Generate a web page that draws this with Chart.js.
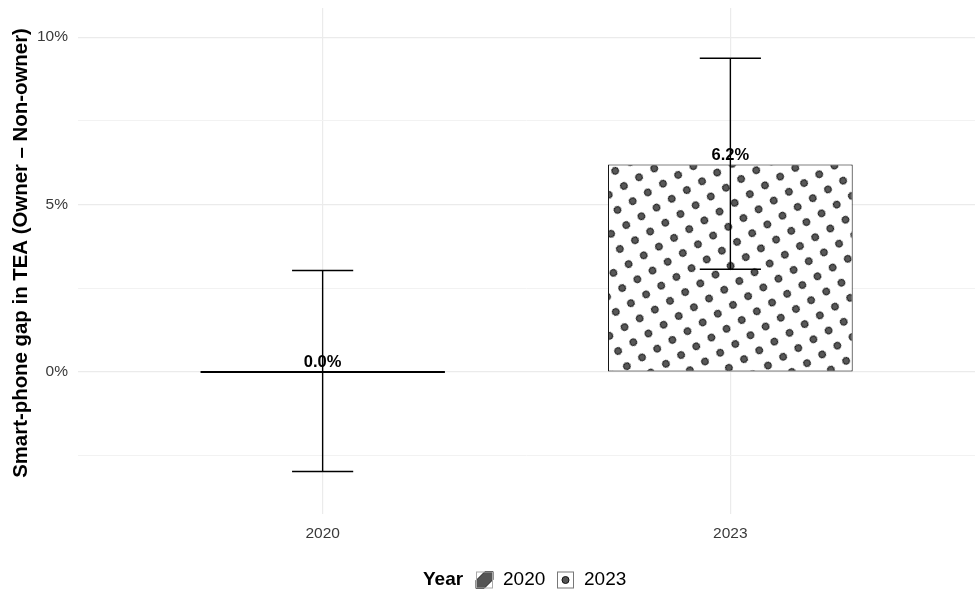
<!DOCTYPE html>
<html lang="en">
<head>
  <meta charset="UTF-8">
  <title>Smart-phone gap in TEA</title>
  <script src="https://cdn.jsdelivr.net/npm/chart.js"></script>
  <style>
    html, body { margin: 0; padding: 0; background: #fff; }
    #wrap { width: 976px; height: 592px; }
  </style>
</head>
<body>
  <div id="wrap"><canvas id="grafico" width="976" height="592"></canvas></div>

  <script>
    const years = ['2020', '2023'];
    const gapValues = [0.0, 6.2];
    const ciLower = [-2.97, 3.07];
    const ciUpper = [3.03, 9.37];
    const yTicks = [-2.5, 0, 2.5, 5, 7.5, 10];
    const yLabelTicks = [0, 5, 10];

    const FONT = '"Liberation Sans", Arial, sans-serif';
    Chart.defaults.font.family = FONT;

    // dot pattern for 2023 bar
    function makeDots() {
      const c = document.createElement('canvas');
      c.width = 35; c.height = 35;
      const g = c.getContext('2d');
      g.fillStyle = '#fff';
      g.fillRect(0, 0, 35, 35);
      [[8.75, 8.75], [26.25, 8.75], [8.75, 26.25], [26.25, 26.25]].forEach(p => {
        g.beginPath();
        g.arc(p[0], p[1], 3.4, 0, Math.PI * 2);
        g.fillStyle = '#585858';
        g.fill();
        g.lineWidth = 1;
        g.strokeStyle = '#111';
        g.stroke();
      });
      const pat = g.createPattern(c, 'repeat');
      pat.setTransform(new DOMMatrix().translate(619, 300).rotate(-30));
      return pat;
    }

    // stripe pattern for 2020 bar (bar has no height, only used for fill)
    function makeStripes() {
      const c = document.createElement('canvas');
      c.width = 12; c.height = 12;
      const g = c.getContext('2d');
      g.fillStyle = '#fff';
      g.fillRect(0, 0, 12, 12);
      g.fillStyle = '#555';
      g.beginPath();
      g.moveTo(0, 9); g.lineTo(9, 0); g.lineTo(12, 0); g.lineTo(12, 3); g.lineTo(3, 12); g.lineTo(0, 12);
      g.fill();
      return g.createPattern(c, 'repeat');
    }

    const dotPattern = makeDots();
    const stripePattern = makeStripes();

    const rotulos = {
      id: 'rotulos',
      afterDatasetsDraw(chart) {
        const ctx = chart.ctx;
        const xs = chart.scales.x, ys = chart.scales.y;
        ctx.save();
        // value labels
        ctx.font = 'bold 16.5px ' + FONT;
        ctx.fillStyle = '#000';
        ctx.textAlign = 'center';
        ctx.textBaseline = 'bottom';
        gapValues.forEach((v, i) => {
          ctx.fillText(v.toFixed(1) + '%', xs.getPixelForValue(i + 1), ys.getPixelForValue(v) - 1);
        });
        // error bars
        ctx.strokeStyle = '#000';
        ctx.lineWidth = 1.4;
        years.forEach((_, i) => {
          const x = xs.getPixelForValue(i + 1);
          const half = xs.getPixelForValue(i + 1 + 0.075) - x;
          const yl = ys.getPixelForValue(ciLower[i]);
          const yu = ys.getPixelForValue(ciUpper[i]);
          ctx.beginPath();
          ctx.moveTo(x, yl); ctx.lineTo(x, yu);
          ctx.moveTo(x - half, yl); ctx.lineTo(x + half, yl);
          ctx.moveTo(x - half, yu); ctx.lineTo(x + half, yu);
          ctx.stroke();
        });
        ctx.restore();
      }
    };

    const legenda = {
      id: 'legenda',
      afterDraw(chart) {
        const ctx = chart.ctx;
        const cy = 580;
        ctx.save();
        // y axis title
        ctx.save();
        ctx.translate(21, 253);
        ctx.rotate(-Math.PI / 2);
        ctx.textAlign = 'center';
        ctx.textBaseline = 'middle';
        ctx.fillStyle = '#000';
        ctx.font = 'bold 20.4px ' + FONT;
        ctx.fillText('Smart-phone gap in TEA (Owner – Non-owner)', 0, 0);
        ctx.restore();

        ctx.textBaseline = 'middle';
        ctx.textAlign = 'left';
        ctx.fillStyle = '#000';
        ctx.font = 'bold 19px ' + FONT;
        ctx.fillText('Year', 423, cy);
        ctx.font = '19px ' + FONT;

        // 2020 key
        let bx = 476, by = cy - 8.5, s = 17;
        ctx.fillStyle = '#fff';
        ctx.fillRect(bx, by, s, s);
        ctx.beginPath();
        ctx.moveTo(bx, by + 9); ctx.lineTo(bx + 9, by); ctx.lineTo(bx + s, by);
        ctx.lineTo(bx + s, by + 8); ctx.lineTo(bx + 8, by + s); ctx.lineTo(bx, by + s);
        ctx.closePath();
        ctx.fillStyle = '#555';
        ctx.fill();
        ctx.strokeStyle = '#222';
        ctx.lineWidth = 1;
        ctx.stroke();
        ctx.strokeStyle = '#aaa';
        ctx.strokeRect(bx + 0.5, by + 0.5, s - 1, s - 1);
        ctx.fillStyle = '#000';
        ctx.fillText(years[0], 503, cy);

        // 2023 key
        bx = 557;
        ctx.fillStyle = '#fff';
        ctx.fillRect(bx, by, s, s);
        ctx.strokeStyle = '#777';
        ctx.strokeRect(bx + 0.5, by + 0.5, s - 1, s - 1);
        ctx.beginPath();
        ctx.arc(bx + s / 2, by + s / 2, 3.5, 0, Math.PI * 2);
        ctx.fillStyle = '#555';
        ctx.fill();
        ctx.strokeStyle = '#111';
        ctx.stroke();
        ctx.fillStyle = '#000';
        ctx.fillText(years[1], 584, cy);
        ctx.restore();
      }
    };

    new Chart(document.getElementById('grafico').getContext('2d'), {
      type: 'bar',
      data: {
        datasets: [{
          label: 'Gap',
          data: years.map((y, i) => ({ x: i + 1, y: gapValues[i] })),
          backgroundColor: [stripePattern, dotPattern],
          borderColor: '#000',
          borderWidth: 1,
          borderSkipped: false,
          minBarLength: 2,
          barPercentage: 0.6,
          categoryPercentage: 1
        }]
      },
      options: {
        responsive: false,
        animation: false,
        layout: { padding: { top: 8, right: 1, left: 0, bottom: 0 } },
        plugins: {
          legend: { display: false },
          tooltip: { enabled: false }
        },
        scales: {
          x: {
            type: 'linear',
            offset: false,
            min: 0.4,
            max: 2.6,
            afterBuildTicks: s => { s.ticks = years.map((_, i) => ({ value: i + 1 })); },
            afterFit: s => { s.height = 78; s.paddingLeft = 0; s.paddingRight = 0; },
            ticks: {
              callback: (v, i) => years[i],
              color: '#3a3a3a',
              font: { size: 15.5 },
              padding: 10,
              maxRotation: 0
            },
            grid: { color: '#ebebeb', lineWidth: 1.2, drawTicks: false, offset: false },
            border: { display: false }
          },
          y: {
            min: -4.24,
            max: 10.87,
            afterBuildTicks: s => { s.ticks = yTicks.map(v => ({ value: v })); },
            afterFit: s => { s.width = 78; s.paddingTop = 0; s.paddingBottom = 0; },
            ticks: {
              callback: v => yLabelTicks.includes(v) ? v + '%' : '',
              color: '#3a3a3a',
              font: { size: 15.5 },
              padding: 10
            },
            grid: {
              color: c => yLabelTicks.includes(c.tick.value) ? '#ebebeb' : '#f2f2f2',
              lineWidth: c => yLabelTicks.includes(c.tick.value) ? 1.2 : 1,
              drawTicks: false
            },
            border: { display: false }
          }
        }
      },
      plugins: [rotulos, legenda]
    });
  </script>
</body>
</html>
